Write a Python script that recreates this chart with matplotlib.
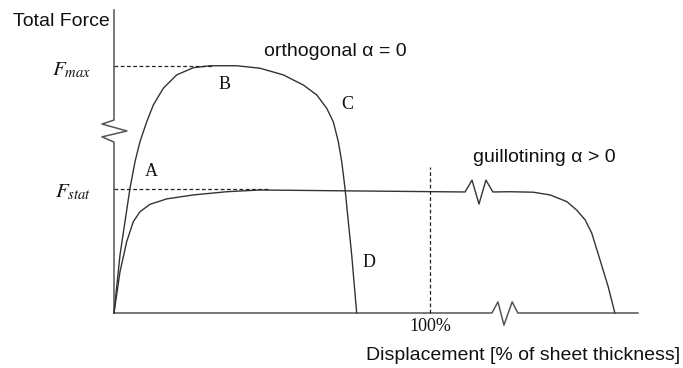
import matplotlib
matplotlib.use("Agg")
import matplotlib.pyplot as plt
import numpy as np

plt.rcParams["font.family"] = ["Liberation Sans", "DejaVu Sans"]
plt.rcParams["mathtext.fontset"] = "stix"

# orthogonal cut (alpha = 0): displacement [%] vs force [F / Fmax]
ortho_disp = [0, 1.90, 3.48, 5.06, 6.65, 8.23, 10.35, 12.44, 15.60, 19.84, 25.09,
              30.38, 38.83, 46.20, 53.58, 59.91, 64.15, 67.31, 69.40, 70.98,
              72.06, 73.10, 74.15, 75.22, 76.80]
ortho_force = [0, 0.235, 0.370, 0.505, 0.613, 0.694, 0.774, 0.842, 0.910, 0.964, 0.993,
               1.001, 1.001, 0.991, 0.964, 0.923, 0.883, 0.829, 0.774, 0.694,
               0.613, 0.505, 0.370, 0.235, 0]

# guillotining (alpha > 0), with break symbol on the plateau
guil_disp = [0, 1.90, 4.02, 6.11, 8.23, 11.39, 16.68, 25.09, 35.66, 46.20, 77.8, 111.1,
             113.3, 115.5, 117.7, 119.9,
             125.3, 132.7, 138.0, 143.3, 146.4, 149.1, 151.2, 153.8, 156.4, 158.5]
guil_force = [0, 0.167, 0.289, 0.370, 0.410, 0.440, 0.462, 0.478, 0.491, 0.498, 0.494, 0.490,
              0.538, 0.441, 0.538, 0.490,
              0.491, 0.489, 0.478, 0.451, 0.417, 0.377, 0.323, 0.215, 0.106, 0]

# axes (schematic, with break symbols)
xaxis_disp = [0, 119.6, 121.5, 123.4, 126.0, 127.8, 165.8]
xaxis_force = [0, 0, 0.045, -0.049, 0.045, 0, 0]
yaxis_disp = [0, 0, -3.8, 4.1, -3.8, 0, 0]
yaxis_force = [0, 0.692, 0.713, 0.737, 0.765, 0.781, 1.227]

f_max = 1.0
f_stat = 0.502
full_cut = 100

fig = plt.figure(figsize=(6.83, 3.68), dpi=100)
W, H = 683, 368
sx, sy = 3.16, 247.0          # pixels per unit
x0, y0 = 114, 313             # pixel of data origin
xlim = (-10, 175)
ylim = (-0.15, 1.26)
left = x0 + xlim[0] * sx
bottom = H - (y0 - ylim[0] * sy)
ax = fig.add_axes([left / W, bottom / H, (xlim[1] - xlim[0]) * sx / W,
                   (ylim[1] - ylim[0]) * sy / H])
ax.set_xlim(*xlim)
ax.set_ylim(*ylim)
ax.axis("off")

ax.plot(xaxis_disp, xaxis_force, color="#555555", lw=1.1, clip_on=False)
ax.plot(yaxis_disp, yaxis_force, color="#555555", lw=1.1, clip_on=False)

ax.plot(ortho_disp, ortho_force, color="#333333", lw=1.0, solid_joinstyle="round")
ax.plot(guil_disp, guil_force, color="#333333", lw=1.0, solid_joinstyle="round")

ax.plot([0, 31.3], [f_max, f_max], color="#222222", lw=0.9, ls=(0, (3, 2)))
ax.plot([0, 49.4], [f_stat, f_stat], color="#222222", lw=0.9, ls=(0, (3, 2)))
ax.plot([full_cut, full_cut], [0, 0.591], color="#222222", lw=0.9, ls=(0, (3, 2)))

serif = ["Liberation Serif", "DejaVu Serif"]
for lab, xx, yy in [("A", 11.7, 0.571), ("B", 35.1, 0.926),
                    ("C", 73.8, 0.845), ("D", 80.7, 0.206)]:
    ax.text(xx, yy, lab, family=serif, fontsize=13, ha="center", va="center", color="#111111")

ax.text(full_cut, -0.053, "100%", family=serif, fontsize=13, ha="center", va="center", color="#111111")

ax.text(-7.3, 0.984, r"$F_{max}$", fontsize=15, ha="right", va="center", color="#111111")
ax.text(-7.3, 0.490, r"$F_{stat}$", fontsize=15, ha="right", va="center", color="#111111")

ax.text(47.5, 1.057, "orthogonal α = 0", fontsize=14, ha="left", va="center", color="#111111")
ax.text(113.6, 0.628, "guillotining α > 0", fontsize=14, ha="left", va="center", color="#111111")

fig.text(13 / W, 1 - 22 / H, "Total Force", fontsize=14, ha="left", va="center", color="#111111")
fig.text(680 / W, 1 - 355 / H, "Displacement [% of sheet thickness]", fontsize=14,
         ha="right", va="center", color="#111111")

fig.savefig("out.png", dpi=100, facecolor="white")
